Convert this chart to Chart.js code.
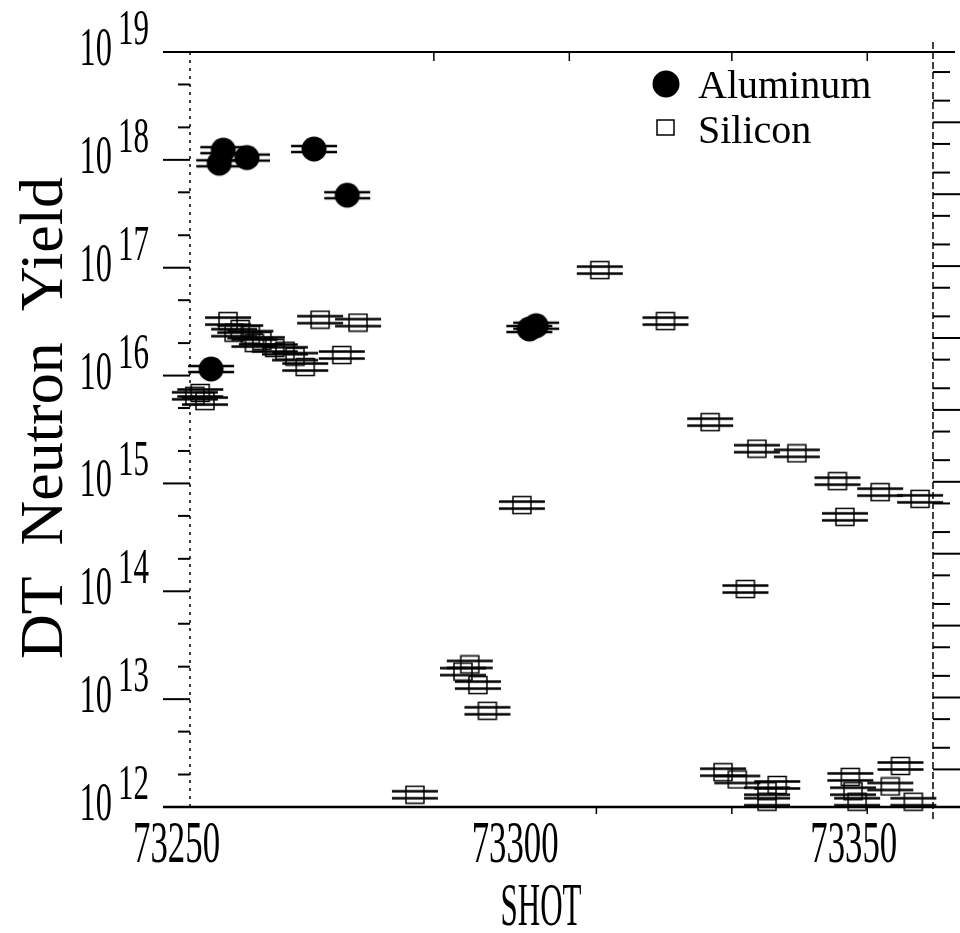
<!DOCTYPE html>
<html>
<head>
<meta charset="utf-8">
<script src="https://cdn.jsdelivr.net/npm/chart.js@4.4.1/dist/chart.umd.min.js"></script>
<style>
  html, body { margin: 0; padding: 0; background: #fff; }
  #wrap { width: 960px; height: 933px; }
</style>
</head>
<body>
<div id="wrap"><canvas id="mycanvas" width="960" height="933"></canvas></div>
<script>
// shot numbers and DT neutron yields
var alShot  = [73256.9, 73256.3, 73260.4, 73270.3, 73275.2, 73255.1, 73302.1, 73303.1];
var alYield = [1.23e18, 9.3e17, 1.05e18, 1.26e18, 4.7e17, 1.15e16, 2.7e16, 2.9e16];

var siShot  = [73252.7, 73254.2, 73253.5, 73257.6, 73258.5, 73259.4, 73260.9, 73261.5,
               73262.6, 73264.5, 73266.0, 73267.5, 73269.0, 73271.2, 73274.4, 73276.8,
               73285.2, 73292.3, 73293.3, 73294.5, 73295.9, 73301.0, 73312.5, 73322.2,
               73328.8, 73335.7, 73341.6, 73347.6, 73348.7, 73334.0, 73353.9, 73359.8,
               73330.7, 73332.8, 73338.7, 73337.2, 73349.5, 73349.9, 73356.9, 73355.4,
               73350.5, 73358.8, 73337.2];
var siYield = [6.5e15, 5.8e15, 6.9e15, 3.2e16, 2.5e16, 2.7e16, 2.4e16, 2.0e16,
               2.1e16, 1.8e16, 1.7e16, 1.5e16, 1.2e16, 3.3e16, 1.55e16, 3.1e16,
               1.3e12, 1.8e13, 2.1e13, 1.35e13, 7.8e12, 6.3e14, 9.5e16, 3.2e16,
               3.7e15, 2.1e15, 1.9e15, 1.05e15, 4.9e14, 1.05e14, 8.3e14, 7.2e14,
               2.1e12, 1.8e12, 1.6e12, 1.4e12, 1.9e12, 1.4e12, 2.4e12, 1.55e12,
               1.12e12, 1.12e12, 1.12e12];

var xTickLabels = [73250, 73300, 73350];
var yDecades = [12, 13, 14, 15, 16, 17, 18, 19];
var yMinor = [2, 5];
var rightDecades = [0, 1, 2, 3, 4, 5, 6, 7, 8, 9];
var topTicks = [73288, 73308, 73332, 73352];
var bottomTicks = [73312, 73332, 73352];

var FONT = '"Liberation Serif", "DejaVu Serif", serif';

function toPoints(xs, ys) {
    var pts = [];
    for (var i in xs) pts.push({x: xs[i], y: ys[i]});
    return pts;
}

// filled circle with double horizontal error bar
var alGlyph = document.createElement('canvas');
alGlyph.width = 50; alGlyph.height = 28;
(function(){
    var c = alGlyph.getContext('2d');
    c.strokeStyle = '#000'; c.lineWidth = 2.5;
    c.beginPath();
    c.moveTo(2, 11); c.lineTo(48, 11);
    c.moveTo(2, 17); c.lineTo(48, 17);
    c.stroke();
    c.fillStyle = '#000';
    c.beginPath(); c.arc(25, 14, 12.5, 0, Math.PI*2); c.fill();
})();

// open square with double horizontal error bar (scanned look: heavy bars)
var siGlyph = document.createElement('canvas');
siGlyph.width = 48; siGlyph.height = 20;
(function(){
    var c = siGlyph.getContext('2d');
    c.strokeStyle = '#000';
    c.lineWidth = 1.5;
    c.strokeRect(15, 1.5, 18, 17);
    c.lineWidth = 2.5;
    c.beginPath();
    c.moveTo(1, 6.5); c.lineTo(47, 6.5);
    c.moveTo(1, 13.5); c.lineTo(47, 13.5);
    c.stroke();
})();

function txt(ctx, s, x, y, size, sx, align) {
    ctx.save();
    ctx.translate(x, y);
    ctx.scale(sx, 1);
    ctx.font = size + 'px ' + FONT;
    ctx.textAlign = align;
    ctx.textBaseline = 'alphabetic';
    ctx.fillText(s, 0, 0);
    ctx.restore();
}

var decor = {
    id: 'decor',
    afterDraw: function(chart) {
        var ctx = chart.ctx, a = chart.chartArea;
        var sx = chart.scales.x, sy = chart.scales.y, sr = chart.scales.y2;
        ctx.save();
        ctx.strokeStyle = '#000';
        ctx.fillStyle = '#000';

        // top and bottom frame lines
        ctx.lineWidth = 2;
        ctx.beginPath();
        ctx.moveTo(a.left, a.top); ctx.lineTo(955, a.top);
        ctx.stroke();
        ctx.lineWidth = 2.5;
        ctx.beginPath();
        ctx.moveTo(a.left, a.bottom); ctx.lineTo(960, a.bottom);
        ctx.stroke();

        // left axis (faint, dotted) and its ticks
        var lx = 190;
        ctx.lineWidth = 1.5;
        ctx.setLineDash([3, 5]);
        ctx.beginPath(); ctx.moveTo(lx, a.top); ctx.lineTo(lx, a.bottom); ctx.stroke();
        ctx.setLineDash([]);
        ctx.lineWidth = 2;
        yDecades.forEach(function(e) {
            var py = sy.getPixelForValue(Math.pow(10, e));
            ctx.beginPath(); ctx.moveTo(a.left, py); ctx.lineTo(lx, py); ctx.stroke();
            if (e < 19) {
                yMinor.forEach(function(m) {
                    var pm = sy.getPixelForValue(m * Math.pow(10, e));
                    ctx.beginPath(); ctx.moveTo(lx - 12, pm); ctx.lineTo(lx, pm); ctx.stroke();
                });
            }
            // 10^e label
            txt(ctx, '10', 112, py + 13, 54, 0.6, 'right');
            txt(ctx, String(e), 118, py - 8, 50, 0.62, 'left');
        });

        // right axis (dashed) with its own log ticks pointing outward
        var rx = 933;
        ctx.lineWidth = 1.5;
        ctx.setLineDash([7, 3]);
        ctx.beginPath(); ctx.moveTo(rx, a.top - 10); ctx.lineTo(rx, a.bottom + 14); ctx.stroke();
        ctx.setLineDash([]);
        ctx.lineWidth = 2;
        rightDecades.forEach(function(e) {
            var py = sr.getPixelForValue(Math.pow(10, e));
            ctx.beginPath(); ctx.moveTo(rx, py); ctx.lineTo(960, py); ctx.stroke();
            yMinor.forEach(function(m) {
                var pm = sr.getPixelForValue(m * Math.pow(10, e));
                if (pm > a.top + 2 && pm < a.bottom - 2) {
                    ctx.beginPath(); ctx.moveTo(rx, pm); ctx.lineTo(rx + 17, pm); ctx.stroke();
                }
            });
        });

        // small ticks on top and bottom
        ctx.lineWidth = 1.5;
        topTicks.forEach(function(v) {
            var px = sx.getPixelForValue(v);
            ctx.beginPath(); ctx.moveTo(px, a.top); ctx.lineTo(px, a.top + 9); ctx.stroke();
        });
        bottomTicks.forEach(function(v) {
            var px = sx.getPixelForValue(v);
            ctx.beginPath(); ctx.moveTo(px, a.bottom); ctx.lineTo(px, a.bottom + 7); ctx.stroke();
        });

        // x tick labels
        xTickLabels.forEach(function(v) {
            txt(ctx, String(v), sx.getPixelForValue(v), 862, 60, 0.58, 'center');
        });

        // axis titles
        txt(ctx, 'SHOT', 541, 925, 62, 0.5, 'center');
        ctx.save();
        ctx.translate(62, 418);
        ctx.rotate(-Math.PI / 2);
        ctx.font = '62px ' + FONT;
        ctx.textAlign = 'center';
        ctx.fillText('DT  Neutron  Yield', 0, 0);
        ctx.restore();

        // legend
        ctx.beginPath(); ctx.arc(666, 84, 13.5, 0, Math.PI * 2); ctx.fill();
        ctx.lineWidth = 1.5;
        ctx.strokeRect(657, 120, 17, 15);
        ctx.font = '40px ' + FONT;
        ctx.textAlign = 'left';
        ctx.fillText(chart.data.datasets[0].label, 698, 98);
        ctx.fillText(chart.data.datasets[1].label, 698, 143);

        ctx.restore();
    }
};

var chartdata = {
    datasets: [
        {
            label: 'Aluminum',
            data: toPoints(alShot, alYield),
            pointStyle: alGlyph,
            clip: false
        },
        {
            label: 'Silicon',
            data: toPoints(siShot, siYield),
            pointStyle: siGlyph,
            clip: false
        }
    ]
};

var ctx = document.getElementById('mycanvas');
var chart = new Chart(ctx, {
    type: 'scatter',
    data: chartdata,
    options: {
        responsive: false,
        animation: false,
        events: [],
        layout: { padding: { left: 163, right: 25, top: 52, bottom: 126 } },
        plugins: { legend: { display: false }, tooltip: { enabled: false } },
        scales: {
            x: { type: 'linear', min: 73248, max: 73362, display: false },
            y: { type: 'logarithmic', min: 1e12, max: 1e19, display: false },
            y2: { type: 'logarithmic', min: 0.3, max: 9.5e9, display: false, position: 'right' }
        }
    },
    plugins: [decor]
});
</script>
</body>
</html>
